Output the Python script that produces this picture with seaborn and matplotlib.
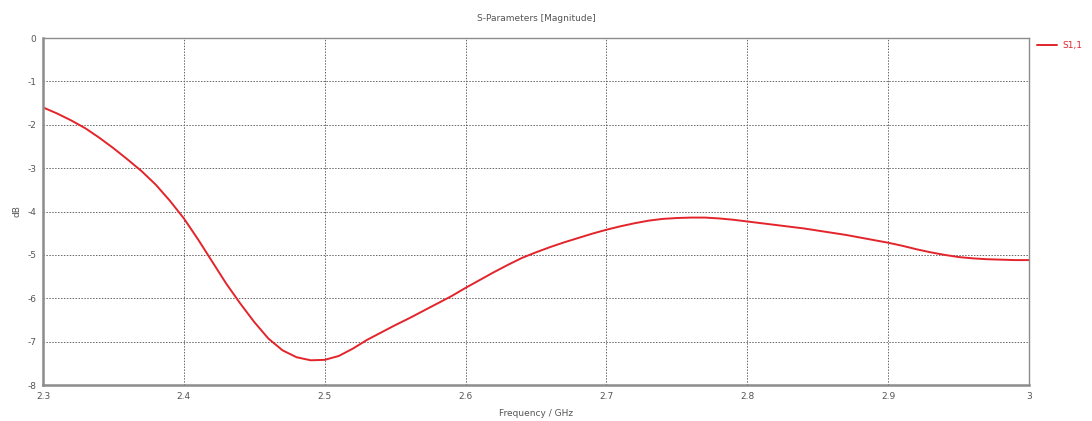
import matplotlib
matplotlib.use("Agg")
import matplotlib.pyplot as plt
import seaborn as sns
import pandas as pd

# S11 magnitude sweep, 2.3 - 3.0 GHz
freq_ghz = [2.30, 2.31, 2.32, 2.33, 2.34, 2.35, 2.36, 2.37, 2.38, 2.39,
            2.40, 2.41, 2.42, 2.43, 2.44, 2.45, 2.46, 2.47, 2.48, 2.49,
            2.50, 2.51, 2.52, 2.53, 2.54, 2.55, 2.56, 2.57, 2.58, 2.59,
            2.60, 2.61, 2.62, 2.63, 2.64, 2.65, 2.66, 2.67, 2.68, 2.69,
            2.70, 2.71, 2.72, 2.73, 2.74, 2.75, 2.76, 2.77, 2.78, 2.79,
            2.80, 2.81, 2.82, 2.83, 2.84, 2.85, 2.86, 2.87, 2.88, 2.89,
            2.90, 2.91, 2.92, 2.93, 2.94, 2.95, 2.96, 2.97, 2.98, 2.99,
            3.00]
s11_db = [-1.60, -1.74, -1.90, -2.08, -2.30, -2.54, -2.80, -3.07, -3.38, -3.75,
          -4.16, -4.64, -5.15, -5.66, -6.12, -6.55, -6.93, -7.20, -7.36, -7.43,
          -7.42, -7.33, -7.16, -6.96, -6.79, -6.62, -6.46, -6.29, -6.12, -5.95,
          -5.76, -5.58, -5.40, -5.23, -5.07, -4.94, -4.82, -4.71, -4.61, -4.51,
          -4.42, -4.34, -4.27, -4.21, -4.17, -4.15, -4.14, -4.14, -4.16, -4.19,
          -4.23, -4.27, -4.31, -4.35, -4.39, -4.44, -4.49, -4.54, -4.60, -4.66,
          -4.72, -4.79, -4.87, -4.94, -5.00, -5.05, -5.08, -5.10, -5.11, -5.12,
          -5.12]
x_ticks = [2.3, 2.4, 2.5, 2.6, 2.7, 2.8, 2.9, 3.0]
x_tick_labels = ["2.3", "2.4", "2.5", "2.6", "2.7", "2.8", "2.9", "3"]
y_ticks = [0, -1, -2, -3, -4, -5, -6, -7, -8]

df = pd.DataFrame({"Frequency / GHz": freq_ghz, "dB": s11_db, "trace": "S1,1"})

sns.set_style("white")
plt.rcParams["font.family"] = ["DejaVu Sans"]
text_color = "#555555"
trace_color = "#e3242b"

fig = plt.figure(figsize=(10.92, 4.21), dpi=100)
ax = fig.add_axes([0.0394, 0.0855, 0.9030, 0.8242])

sns.lineplot(data=df, x="Frequency / GHz", y="dB", hue="trace",
             palette=[trace_color], linewidth=1.4, ax=ax, legend=False,
             sort=False)

ax.set_xlim(2.3, 3.0)
ax.set_ylim(-8, 0)
ax.set_xticks(x_ticks)
ax.set_xticklabels(x_tick_labels)
ax.set_yticks(y_ticks)
ax.set_yticklabels([str(v) for v in y_ticks])
ax.tick_params(axis="both", labelsize=6.5, colors="#777777", labelcolor=text_color,
               length=3, width=0.8, direction="out", pad=2)

ax.grid(True, linestyle=(0, (1.5, 1.5)), color="#666666", linewidth=0.7)

for side in ["left", "bottom"]:
    ax.spines[side].set_color("#8c8c8c")
    ax.spines[side].set_linewidth(1.8)
for side in ["top", "right"]:
    ax.spines[side].set_color("#8c8c8c")
    ax.spines[side].set_linewidth(1.0)

ax.set_xlabel("Frequency / GHz", fontsize=6.5, color=text_color, labelpad=6)
ax.set_ylabel("dB", fontsize=6.5, color=text_color, labelpad=4)
ax.set_title("S-Parameters [Magnitude]", fontsize=6.5, color=text_color, pad=12)

# legend entry outside the plot area on the right
handle = ax.lines[0]
leg = ax.legend([handle], ["S1,1"], loc="upper left", bbox_to_anchor=(1.005, 1.0),
                frameon=False, fontsize=6.5, handlelength=2.2, handletextpad=0.6,
                borderaxespad=0.0, borderpad=0.3)
for t in leg.get_texts():
    t.set_color(trace_color)

fig.savefig("out.png", dpi=100, facecolor="white")
